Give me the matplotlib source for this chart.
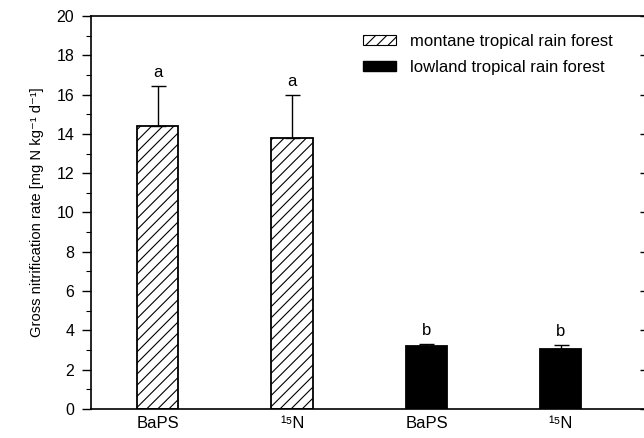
import matplotlib
matplotlib.use('Agg')
import matplotlib.pyplot as plt
import matplotlib.patches as patches
from matplotlib.ticker import MultipleLocator

plt.rcParams['font.family'] = ['Liberation Sans', 'DejaVu Sans']
plt.rcParams['hatch.linewidth'] = 0.8

# DATA
methods = ['BaPS', '¹⁵N', 'BaPS', '¹⁵N']
forest = ['montane', 'montane', 'lowland', 'lowland']
rates = [14.4, 13.8, 3.2, 3.05]
errors = [2.05, 2.2, 0.12, 0.22]
letters = ['a', 'a', 'b', 'b']
legend_labels = ['montane tropical rain forest', 'lowland tropical rain forest']

fig = plt.figure(figsize=(6.44, 4.38), dpi=100)
ax = fig.add_axes([0.1413, 0.0662, 0.8627, 0.8973])

x = list(range(len(rates)))
for i in x:
    if forest[i] == 'montane':
        ax.bar(i, rates[i], width=0.306, color='white', edgecolor='black', hatch='///', linewidth=1.3)
    else:
        ax.bar(i, rates[i], width=0.306, color='black', edgecolor='black', linewidth=1.3)
    ax.errorbar(i, rates[i], yerr=[[0], [errors[i]]], color='black', capsize=5.4, elinewidth=1, capthick=1)
    ax.annotate(letters[i], xy=(i, rates[i] + errors[i]), xytext=(0, 4), textcoords='offset points',
                ha='center', va='bottom', fontsize=12)

ax.set_xlim(-0.496, 3.638)
ax.set_ylim(0, 20)
ax.set_xticks(x)
ax.set_xticklabels(methods, fontsize=12)
ax.tick_params(axis='x', length=0, pad=5)
ax.yaxis.set_major_locator(MultipleLocator(2))
ax.yaxis.set_minor_locator(MultipleLocator(1))
ax.tick_params(axis='y', which='major', length=6.5, width=1, labelsize=11.5, direction='out', pad=5.5)
ax.tick_params(axis='y', which='minor', length=3.5, width=0.8, direction='out')
ax.set_ylabel('Gross nitrification rate [mg N kg⁻¹ d⁻¹]', fontsize=10.6, labelpad=9)

# right axis: ticks inward, spine just outside the picture
sec = ax.secondary_yaxis('right')
sec.yaxis.set_major_locator(MultipleLocator(2))
sec.yaxis.set_minor_locator(MultipleLocator(1))
sec.tick_params(which='major', length=5, width=1, direction='in', labelright=False)
sec.tick_params(which='minor', length=2.5, width=0.8, direction='in')

for s in ax.spines.values():
    s.set_linewidth(1.2)

handles = [patches.Patch(facecolor='white', edgecolor='black', hatch='///', linewidth=0.8),
           patches.Patch(facecolor='black', edgecolor='black')]
ax.legend(handles, legend_labels, loc='upper left', bbox_to_anchor=(0.489, 0.955), frameon=False,
          fontsize=12, borderpad=0, borderaxespad=0, handlelength=2.0, handleheight=0.5,
          handletextpad=0.85, labelspacing=0.68)

fig.savefig('out.png', dpi=100)
